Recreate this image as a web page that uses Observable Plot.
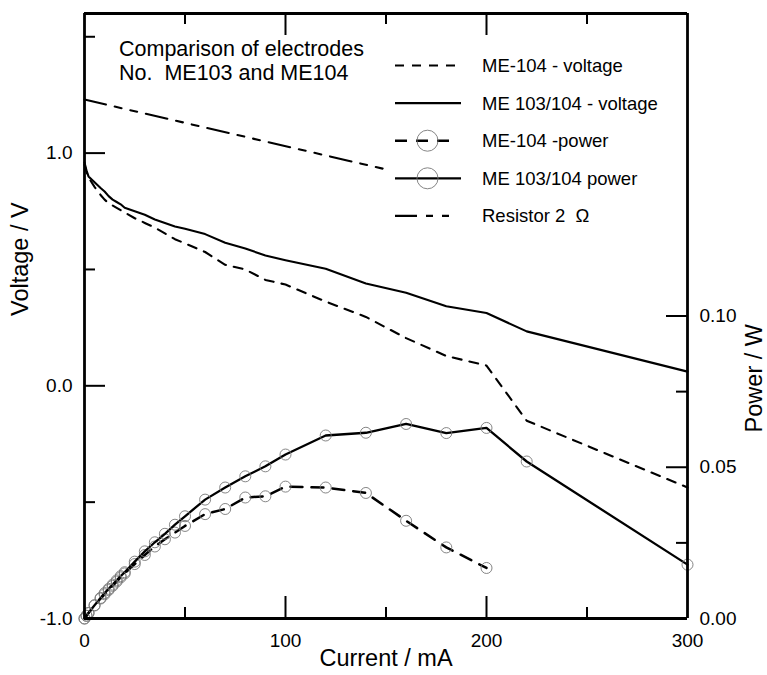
<!DOCTYPE html>
<html>
<head>
<meta charset="utf-8">
<script src="https://cdn.jsdelivr.net/npm/d3@7"></script>
<script src="https://cdn.jsdelivr.net/npm/@observablehq/plot@0.6"></script>
<style>
  html, body { margin: 0; padding: 0; background: #fff; }
  #chart svg text { white-space: pre; }
</style>
</head>
<body>
<div id="chart"></div>
<script>
// ---------- data ----------
const current = [0, 1, 2, 5, 8, 10, 12, 14, 16, 18, 20, 25, 30, 35, 40, 45, 50, 60, 70, 80, 90, 100, 120, 140, 160, 180, 200, 220, 300];

// ME 103/104 voltage (V)
const me103Voltage = [0.96, 0.925, 0.90, 0.875, 0.85, 0.835, 0.815, 0.80, 0.79, 0.78, 0.765, 0.75, 0.735, 0.715, 0.70, 0.685, 0.675, 0.652, 0.615, 0.59, 0.56, 0.54, 0.503, 0.44, 0.40, 0.342, 0.313, 0.234, 0.061];
// ME-104 voltage (V)
const me104Voltage = [0.95, 0.92, 0.895, 0.855, 0.82, 0.80, 0.785, 0.775, 0.765, 0.755, 0.745, 0.72, 0.70, 0.68, 0.655, 0.63, 0.612, 0.575, 0.52, 0.50, 0.455, 0.435, 0.362, 0.296, 0.205, 0.128, 0.087, -0.15, -0.437];

// ME 103/104 power (W)
const me103Power = [0, 0.0009, 0.0018, 0.0044, 0.0068, 0.0084, 0.0098, 0.0112, 0.0126, 0.014, 0.0153, 0.0188, 0.0222, 0.0252, 0.028, 0.031, 0.0338, 0.0393, 0.0433, 0.047, 0.0503, 0.0542, 0.0605, 0.0614, 0.0643, 0.0613, 0.063, 0.0519, 0.0178];
// ME-104 power (W), measured up to 200 mA
const me104PowerCurrent = [0, 1, 2, 5, 8, 10, 12, 14, 16, 18, 20, 25, 30, 35, 40, 45, 50, 60, 70, 80, 90, 100, 120, 140, 160, 180, 200];
const me104Power = [0, 0.0009, 0.0018, 0.0043, 0.0066, 0.008, 0.0094, 0.0108, 0.0122, 0.0136, 0.0149, 0.018, 0.021, 0.0238, 0.0262, 0.0284, 0.0306, 0.0345, 0.0362, 0.040, 0.0404, 0.0436, 0.0433, 0.0415, 0.0323, 0.0235, 0.0167];

// Resistor 2 Ω load line
const resistorCurrent = [0, 150];
const resistorVoltage = [1.23, 0.93];

// axes
const currentDomain = [0, 300];
const voltageDomain = [-1, 1.6];
const powerDomain = [0, 0.2];
const currentTicksMajor = [100, 200];
const currentTicksMinor = [50, 150, 250];
const currentTickLabels = [0, 100, 200, 300];
const voltageTicksMajor = [0, 1];
const voltageTicksMinor = [-0.5, 0.5, 1.5];
const voltageTickLabels = [-1, 0, 1];
const powerTicksMajor = [0.05, 0.10];
const powerTicksMinor = [0.025, 0.075];
const powerTickLabels = [0, 0.05, 0.10];

const annotation = ["Comparison of electrodes", "No.  ME103 and ME104"];
const legendLabels = ["ME-104 - voltage", "ME 103/104 - voltage", "ME-104 -power", "ME 103/104 power", "Resistor 2  \u03A9"];
const xTitle = "Current / mA";
const yTitle = "Voltage / V";
const y2Title = "Power / W";

// ---------- layout ----------
const W = 767, H = 675;
const mL = 84, mR = 80, mT = 13, mB = 57;
const plotW = W - mL - mR, plotH = H - mT - mB;
const FONT = "'Liberation Sans', Arial, Helvetica, sans-serif";

// power is drawn on the voltage scale (secondary axis)
const vSpan = voltageDomain[1] - voltageDomain[0];
const pSpan = powerDomain[1] - powerDomain[0];
const powerToV = p => voltageDomain[0] + (p - powerDomain[0]) / pSpan * vSpan;
const vToPower = v => powerDomain[0] + (v - voltageDomain[0]) / vSpan * pSpan;

const rows = (xs, ys, f = d => d) => xs.map((x, i) => ({x, y: f(ys[i])}));
const sV103 = rows(current, me103Voltage);
const sV104 = rows(current, me104Voltage);
const sP103 = rows(current, me103Power, powerToV);
const sP104 = rows(me104PowerCurrent, me104Power, powerToV);
const sRes = rows(resistorCurrent, resistorVoltage);

const styles = {
  v104: {stroke: "#000", strokeWidth: 2.1, strokeDasharray: "9,8"},
  v103: {stroke: "#000", strokeWidth: 2.1},
  p104: {stroke: "#000", strokeWidth: 2.5, strokeDasharray: "12,9"},
  p103: {stroke: "#000", strokeWidth: 2.3},
  res:  {stroke: "#000", strokeWidth: 2.1, strokeDasharray: "22,9,7,9,7,9"}
};
const dotStyle = {r: 5.5, stroke: "#777", strokeWidth: 0.9, fill: "none"};

const chart = Plot.plot({
  width: W, height: H,
  marginLeft: mL, marginRight: mR, marginTop: mT, marginBottom: mB,
  style: {fontFamily: FONT, fontSize: "19px", color: "#000", background: "#fff"},
  x: {domain: currentDomain, label: null},
  y: {domain: voltageDomain, label: null},
  marks: [
    Plot.line(sRes, {x: "x", y: "y", ...styles.res}),
    Plot.line(sV104, {x: "x", y: "y", ...styles.v104}),
    Plot.line(sV103, {x: "x", y: "y", ...styles.v103}),
    Plot.line(sP104, {x: "x", y: "y", ...styles.p104}),
    Plot.dot(sP104, {x: "x", y: "y", ...dotStyle}),
    Plot.line(sP103, {x: "x", y: "y", ...styles.p103}),
    Plot.dot(sP103, {x: "x", y: "y", ...dotStyle}),
    // inward ticks: bottom & top
    Plot.tickX(currentTicksMajor, {x: d => d, insetTop: plotH - 22, strokeWidth: 2}),
    Plot.tickX(currentTicksMinor, {x: d => d, insetTop: plotH - 11, strokeWidth: 2}),
    Plot.tickX(currentTicksMajor, {x: d => d, insetBottom: plotH - 22, strokeWidth: 2}),
    Plot.tickX(currentTicksMinor, {x: d => d, insetBottom: plotH - 11, strokeWidth: 2}),
    // left ticks (voltage)
    Plot.tickY(voltageTicksMajor, {y: d => d, insetRight: plotW - 21, strokeWidth: 2}),
    Plot.tickY(voltageTicksMinor, {y: d => d, insetRight: plotW - 11, strokeWidth: 2}),
    // right ticks (power)
    Plot.tickY(powerTicksMajor.map(powerToV), {y: d => d, insetLeft: plotW - 21, strokeWidth: 2}),
    Plot.tickY(powerTicksMinor.map(powerToV), {y: d => d, insetLeft: plotW - 11, strokeWidth: 2}),
    // tick labels
    Plot.axisX(currentTickLabels, {anchor: "bottom", tickSize: 0, tickPadding: 15, label: null, fontSize: 19}),
    Plot.axisY(voltageTickLabels, {anchor: "left", tickSize: 0, tickPadding: 12, label: null, fontSize: 19,
      tickFormat: d => d.toFixed(1)}),
    Plot.axisY(powerTickLabels.map(powerToV), {anchor: "right", tickSize: 0, tickPadding: 12, label: null, fontSize: 19,
      tickFormat: d => vToPower(d).toFixed(2)}),
    // axis titles
    Plot.text([xTitle], {text: d => d, frameAnchor: "bottom", dy: 47, fontSize: 23.5}),
    Plot.text([yTitle], {text: d => d, frameAnchor: "left", dx: -64, rotate: -90, fontSize: 23.5}),
    Plot.text([y2Title], {text: d => d, frameAnchor: "right", dx: 67, dy: 8, rotate: -90, fontSize: 23.5}),
    // frame drawn as thick rules at the domain edges
    Plot.ruleX(currentDomain, {x: d => d, stroke: "#000", strokeWidth: 2.8}),
    Plot.ruleY(voltageDomain, {y: d => d, stroke: "#000", strokeWidth: 2.8})
  ]
});

document.getElementById("chart").appendChild(chart);

// ---------- annotation and legend ----------
const svg = d3.select(chart);
const note = svg.append("g").attr("font-family", FONT).attr("font-size", 21.5)
  .attr("fill", "#000").attr("text-anchor", "start");
annotation.forEach((t, i) => {
  note.append("text").attr("x", 119).attr("y", 56 + i * 24).attr("xml:space", "preserve").text(t);
});

const legendStyles = [styles.v104, styles.v103, styles.p104, styles.p103, styles.res];
const legendEnds = [461, 461, 452, 461, 452];
const legendCircle = [false, false, true, true, false];
const lg = svg.append("g").attr("font-family", FONT).attr("font-size", 18.5)
  .attr("fill", "#000").attr("text-anchor", "start");
legendLabels.forEach((label, i) => {
  const y = 65.5 + i * 37.6;
  const s = legendStyles[i];
  lg.append("line")
    .attr("x1", 395).attr("x2", legendEnds[i]).attr("y1", y).attr("y2", y)
    .attr("stroke", s.stroke).attr("stroke-width", s.strokeWidth)
    .attr("stroke-dasharray", s.strokeDasharray || null);
  if (legendCircle[i]) {
    lg.append("circle").attr("cx", 427.5).attr("cy", y).attr("r", 10.5)
      .attr("fill", "none").attr("stroke", "#777").attr("stroke-width", 0.9);
  }
  lg.append("text").attr("x", 482).attr("y", y).attr("dy", "0.35em")
    .attr("xml:space", "preserve").text(label);
});
</script>
</body>
</html>
